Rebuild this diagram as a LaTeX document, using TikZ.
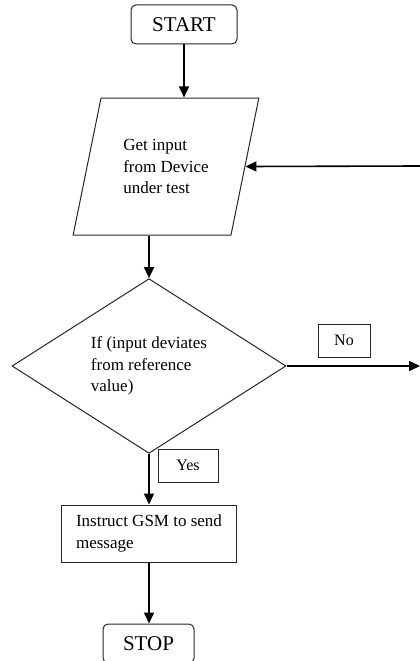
\documentclass[tikz,border=0pt]{standalone}
\usepackage{fontspec}
\setmainfont{Liberation Serif}
\usetikzlibrary{shapes.geometric,arrows.meta}
\begin{document}
\begin{tikzpicture}[x=1pt,y=-1pt,
  shape line/.style={draw=black!85,line width=1pt},
  terminal/.style={shape line,rounded corners=5pt,font=\fontsize{21}{24}\selectfont,inner sep=0pt},
  body/.style={font=\fontsize{17}{21.5}\selectfont,align=left},
  iobox/.style={shape line,body,trapezium,trapezium left angle=71.4,trapezium right angle=108.6,trapezium stretches=true,minimum width=186pt,minimum height=137pt,inner sep=0pt},
  decision/.style={shape line,body,diamond,minimum width=274pt,minimum height=153pt,inner sep=0pt},
  procbox/.style={shape line,body,minimum width=175pt,minimum height=57pt,inner sep=0pt},
  tag/.style={shape line,font=\fontsize{16}{18}\selectfont,inner sep=0pt},
  flow/.style={line width=1.6pt,-{Triangle[length=11pt,width=10pt]}}
]
\useasboundingbox (0,0) rectangle (420,661);
\node[terminal,minimum width=106pt,minimum height=39pt] (start) at (184,24.5) {START};
\node[iobox] (input) at (166,166.5) {Get input\\from Device\\under test};
\node[decision] (dec) at (149,366) {If (input deviates\\from reference\\value)};
\node[tag,minimum width=52pt,minimum height=33pt] (no) at (344,340.5) {No};
\node[tag,minimum width=60pt,minimum height=33pt] (yes) at (188,465.5) {Yes};
\node[procbox] (gsm) at (149,533.5) {Instruct GSM to send\\message};
\node[terminal,minimum width=91pt,minimum height=39pt] (stop) at (148.5,643.5) {STOP};
\coordinate (noend) at (420,366);
\coordinate (loopin) at (420,166);
\draw[flow] (start.south) -- (start.south |- input.north);
\draw[flow] (dec.north |- input.south) -- (dec.north);
\draw[flow] (loopin) -- (input.east);
\draw[flow] (dec.east) -- (noend);
\draw[flow] (dec.south) -- (dec.south |- gsm.north);
\draw[flow] (gsm.south) -- (gsm.south |- stop.north);
\end{tikzpicture}
\end{document}
